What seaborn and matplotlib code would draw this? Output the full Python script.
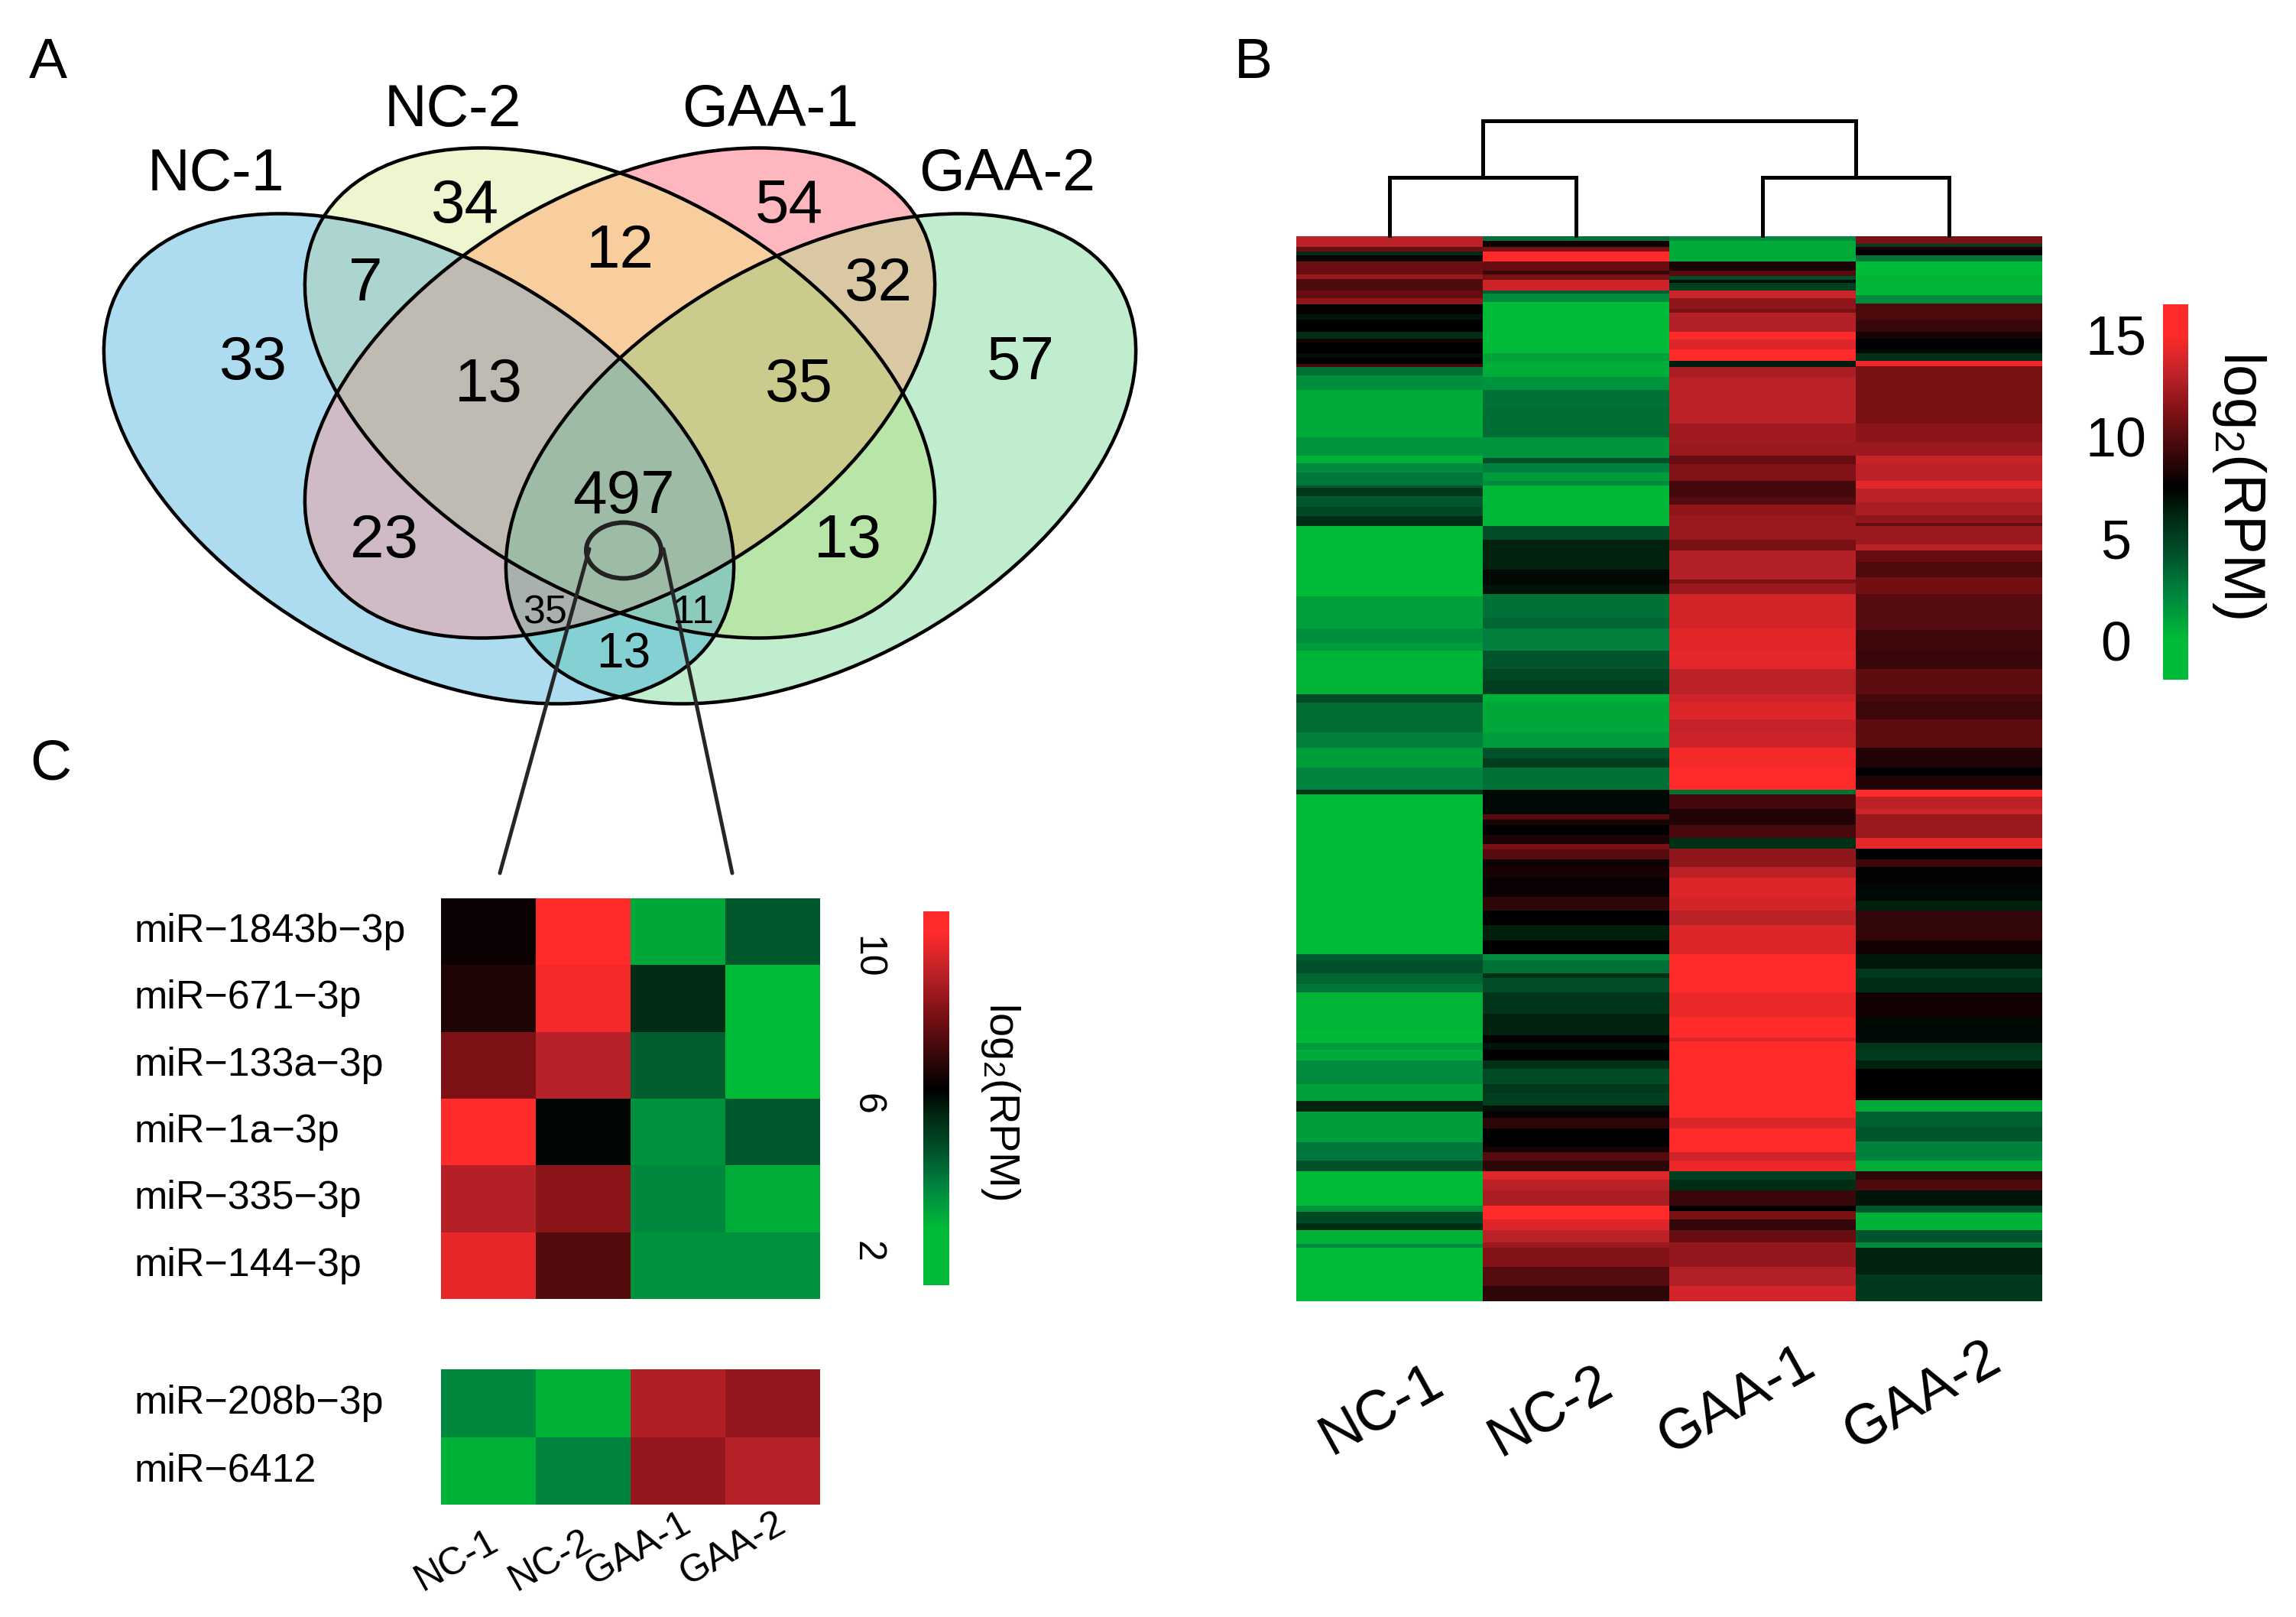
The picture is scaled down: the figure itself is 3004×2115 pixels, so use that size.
import numpy as np
import pandas as pd
import matplotlib
matplotlib.use("Agg")
import matplotlib.pyplot as plt
import seaborn as sns
from matplotlib.colors import LinearSegmentedColormap
from matplotlib.patches import Ellipse
from matplotlib.transforms import ScaledTranslation

W, H = 3004, 2115
DPI = 100

# Panel A: venn counts
venn_sets = ["NC-1", "NC-2", "GAA-1", "GAA-2"]
venn_counts = [34, 54, 7, 12, 32, 33, 57, 13, 35, 497, 23, 13, 35, 11, 13]

# Panel B: heatmap bands, per sample. ends = last row of band (of 500), vals = log2(RPM)
samples = ["NC-1", "NC-2", "GAA-1", "GAA-2"]

nc1_ends = [5, 7, 9, 12, 18, 20, 25.5, 29, 32, 36.5, 39, 45, 48, 50, 55, 57, 60, 61.5, 65.5, 72,
            94.5, 103, 106.5, 111, 117, 118, 122, 127, 131.5, 136, 169, 184, 191, 194.5, 215, 219,
            233, 240, 249.5, 260, 262, 337, 340, 346, 351, 355, 373, 378.5, 382, 387, 398, 406,
            411, 425.5, 434, 439, 455, 458, 463.5, 466.5, 473, 475, 500]
nc1_vals = [13, 10.6, 6, 7.8, 10.6, 12, 9.8, 10.5, 11.7, 7.6, 6.8, 7.5, 5.8, 8.1, 7.5, 7, 7.5, 9.5, 3, 1.8,
            0.7, 1.5, 0.4, 2, 2.8, 4, 5.3, 4, 4.6, 5.8, 0, 1.1, 1.8, 1.3, 0.3, 4.5,
            3.2, 2.5, 1.2, 2.3, 5.5, 0, 3.8, 4.3, 3.4, 2.8, 0.3, 0.1, 1.3, 0.7, 2, 1.1,
            6.2, 1.2, 2.8, 4.3, 0, 1.7, 4.6, 5.8, 0.4, 2, 0]

nc2_ends = [2, 5, 7, 12, 16, 18, 20.5, 25.5, 27, 31, 55, 59, 66, 72, 80, 94.5, 104, 106.5, 111, 115,
            117, 136, 142.5, 145.5, 156.5, 163.5, 168, 179, 184, 194.5, 203, 208.5, 215, 218.5, 233,
            240, 245, 249.5, 260, 262, 271.5, 274, 276.5, 281, 285.5, 288, 292.5, 296, 301, 310,
            316.5, 323.5, 330.5, 337, 340, 346, 348, 355, 365, 375, 378.5, 382, 387, 391, 398, 402.5,
            408, 411, 414, 419, 427.5, 430, 434, 439, 443, 448, 455, 461.5, 466.5, 472.5, 475, 484,
            493, 500]
nc2_vals = [3, 7.9, 11, 15, 10.5, 9.2, 11, 13.5, 3.8, 2, 0, 1, 0.6, 1.6, 3, 3.2, 1.6, 4.3, 2.4, 1.3,
            2, 0.2, 4.4, 6.4, 6.3, 7.2, 6.8, 3, 3.4, 2.5, 4.1, 4.7, 5, 0.5, 0.8,
            1.3, 4.2, 5, 3, 7.2, 7.2, 10, 8.2, 7.5, 8.3, 11, 10, 7.9, 8.2, 7.8,
            8.8, 7.5, 6.4, 7.5, 1.9, 3, 5.7, 4.4, 5.5, 6.3, 7.5, 6.8, 7.5, 5.7, 4.5, 5.3,
            5, 7, 7.7, 8.8, 7.5, 8.2, 10, 8.8, 14, 13, 12.5, 15, 14, 13, 12, 11.3,
            10, 8.8]

gaa1_ends = [2, 12, 16, 18.5, 20.5, 22, 25.5, 29, 34, 36, 45, 48.5, 53, 58.5, 61.5, 66, 88, 97, 103, 107,
             115, 122.5, 126, 131, 142.5, 147.5, 161, 163, 168, 184, 194.5, 203, 215, 218.5, 227, 233,
             240, 249.5, 260, 262, 269, 276.5, 282.5, 287.5, 296, 301, 310, 316.5, 323.5, 337, 355, 367,
             376, 378, 414, 419, 430, 434, 439, 443, 448, 455, 457.5, 461.5, 466.5, 472.5, 484, 493, 500]
gaa1_vals = [2, 0.7, 8.3, 10, 4.5, 7, 5, 13.5, 11.7, 11, 12.8, 15, 14, 15, 6.5, 12.5, 13, 12.2, 12, 10.5,
             11.3, 9.5, 10, 11.7, 12, 11, 12.8, 11, 12, 13.7, 14.1, 14.2, 13, 13.5, 14, 13.3,
             13.5, 14.7, 15, 3, 9.5, 8.5, 9.6, 5.7, 11.7, 13, 14, 13.7, 13, 14, 15, 14.4,
             15, 14, 15, 14, 15, 13.6, 14.5, 5, 5.8, 9.2, 7.5, 11, 9, 10.5, 11.8, 12.8, 13.7]

gaa2_ends = [3.5, 5, 6.5, 9, 12, 18.5, 27.5, 31.5, 39, 45, 48, 53, 55, 58.5, 61, 88, 97, 103, 107, 115,
             118.5, 125, 131, 134.5, 136, 144.5, 147.5, 153, 160, 168, 185, 194.5, 203, 215, 218.5, 227,
             240, 249.5, 253.5, 260, 263, 269, 271.5, 282.5, 287.5, 292.5, 296, 304.5, 312, 316.5, 330.5,
             337, 344, 348, 355, 367, 378.5, 382, 387, 391, 405.5, 411, 418, 425, 434, 439, 443, 448,
             455, 458.5, 466.5, 472.5, 475, 487.5, 500]
gaa2_vals = [11, 5, 8.2, 7.5, 3, 0, 0.3, 2, 9.7, 9.2, 8.2, 7.5, 7.2, 5.7, 14.5, 11, 11.6, 12.1, 13.4, 13,
             14.2, 13, 12.5, 11.7, 10.5, 12, 13, 10.5, 9.7, 10.8, 10, 9.3, 9.1, 10.3, 9.6, 9.3,
             10.3, 8.5, 7.5, 8.5, 15, 13, 13.5, 12, 14.2, 7.5, 9.3, 7.6, 7.2, 6.4, 9,
             8, 6.7, 5.3, 5.8, 8, 7.2, 5.5, 5.2, 6.3, 7.5, 0.7, 3.7, 4.1, 2.4, 0.6, 8.8, 9.7,
             6.8, 4, 0.4, 4.1, 2, 6.3, 5.3]

# Panel C: shared miRNAs
mirna_top = ["miR\u22121843b\u22123p", "miR\u2212671\u22123p", "miR\u2212133a\u22123p",
             "miR\u22121a\u22123p", "miR\u2212335\u22123p", "miR\u2212144\u22123p"]
mirna_bottom = ["miR\u2212208b\u22123p", "miR\u22126412"]
values_top = [[6.6, 10.7, 3.0, 4.6],
              [6.9, 10.5, 5.6, 2.6],
              [8.5, 9.5, 4.5, 2.6],
              [10.7, 6.3, 3.5, 4.6],
              [9.45, 8.75, 3.7, 2.9],
              [10.3, 7.8, 3.5, 3.5]]
values_bottom = [[3.7, 2.8, 9.4, 8.9],
                 [2.8, 3.8, 8.9, 9.5]]

# dendrogram heights on top of panel B
leaf_height = 0.0
pair_height = 0.507
root_height = 1.0

# colour ramps, (share of the way from black, colour)
green_ramp = [(0.2, "#002A12"), (0.43, "#00502A"), (0.7, "#00853F"), (1.0, "#00BB37")]
red_ramp = [(0.48, "#7B1015"), (0.74, "#BC2229"), (1.0, "#FF2A2A")]

# fill colours of the venn regions, key = NC-1 + 2*NC-2 + 4*GAA-1 + 8*GAA-2
region_colors = {1: "#ADDCF1", 2: "#EEF6CF", 4: "#FFB7BF", 8: "#BFEDCE",
                 3: "#ACD5D1", 5: "#CFBBC5", 6: "#F9CE9F", 12: "#D9C8A3",
                 10: "#B8E6A8", 9: "#84D0D3", 7: "#BFBAB2", 14: "#CCCB8E",
                 13: "#A9B1AE", 11: "#8CCABB", 15: "#9DBBA5"}


def px(size):
    """Font size or line width given in pixels, as points."""
    return size * 72 / DPI


def axes_at(fig, left, top, right, bottom):
    return fig.add_axes([left / W, 1 - bottom / H, (right - left) / W, (bottom - top) / H])


def make_cmap(vmin, vmax, low, mid, high):
    """Green - black - red map, flat below low and above high."""
    span = vmax - vmin
    stops = [(0, green_ramp[-1][1])]
    for share, color in reversed(green_ramp):
        stops.append(((mid - share * (mid - low) - vmin) / span, color))
    stops.append(((mid - vmin) / span, "#000000"))
    for share, color in red_ramp:
        stops.append(((mid + share * (high - mid) - vmin) / span, color))
    stops.append((1, red_ramp[-1][1]))
    return LinearSegmentedColormap.from_list("gbr", stops, N=512)


def bands_to_column(ends, vals):
    edges = np.rint(np.array(ends) * 2).astype(int)
    counts = np.diff(np.concatenate([[0], edges]))
    return np.repeat(vals, counts)


def draw_venn(ax):
    ellipses = [(548, 600, 30), (811, 514, 30), (811, 514, -30), (1074, 600, -30)]
    width, height = 902, 526

    xs, ys = np.meshgrid(np.arange(120, 1500), np.arange(170, 940))
    code = np.zeros(xs.shape, dtype=int)
    for bit, (cx, cy, angle) in enumerate(ellipses):
        t = np.radians(angle)
        u = (xs - cx) * np.cos(t) + (ys - cy) * np.sin(t)
        v = -(xs - cx) * np.sin(t) + (ys - cy) * np.cos(t)
        code += ((u / (width / 2)) ** 2 + (v / (height / 2)) ** 2 <= 1).astype(int) << bit

    rgba = np.zeros(xs.shape + (4,))
    for key, color in region_colors.items():
        rgba[code == key] = matplotlib.colors.to_rgba(color)
    ax.imshow(rgba, extent=(120, 1500, 940, 170), aspect="auto", interpolation="nearest", zorder=1)

    for cx, cy, angle in ellipses:
        ax.add_patch(Ellipse((cx, cy), width, height, angle=angle, fill=False,
                             edgecolor="black", linewidth=px(4.5), zorder=2))

    set_pos = [(282, 221), (592, 137), (1008, 137), (1318, 221)]
    for name, (x, y) in zip(venn_sets, set_pos):
        ax.text(x, y, name, fontsize=px(77), ha="center", va="center_baseline", zorder=4)

    count_pos = [(609, 262), (1032, 262), (478, 364), (811, 321), (1149, 364), (331, 467), (1335, 467),
                 (639, 496), (1045, 496), (816, 642), (502, 700), (1109, 700), (713, 796), (907, 796),
                 (816, 850)]
    count_size = [80] * 9 + [80] + [80] * 2 + [52, 52, 64]
    for n, (x, y), size in zip(venn_counts, count_pos, count_size):
        ax.text(x, y, str(n), fontsize=px(size), ha="center", va="center_baseline", zorder=4)

    # zoom from the middle of the venn to panel C
    ax.add_patch(Ellipse((816, 720), 98, 73, fill=False, edgecolor="#222222", linewidth=px(6), zorder=3))
    ax.plot([771, 654], [718, 1142], color="#262626", linewidth=px(5), zorder=3)
    ax.plot([868, 958], [718, 1142], color="#262626", linewidth=px(5), zorder=3)


def style_colorbar(cbar, size, pad, rotation):
    cbar.outline.set_visible(False)
    cbar.ax.yaxis.set_ticks_position("left")
    cbar.ax.tick_params(length=0, pad=px(pad), labelsize=px(size))
    for label in cbar.ax.get_yticklabels():
        label.set_ha("center")
        label.set_va("center_baseline" if rotation == 0 else "center")
        label.set_rotation(rotation)


def style_xlabels(ax, fig, size, shifts):
    ax.tick_params(axis="x", length=0)
    for label, (dx, dy) in zip(ax.get_xticklabels(), shifts):
        label.set_fontsize(px(size))
        label.set_rotation(29)
        label.set_rotation_mode("anchor")
        label.set_ha("left")
        label.set_va("baseline")
        label.set_transform(label.get_transform() + ScaledTranslation(dx / DPI, -dy / DPI, fig.dpi_scale_trans))


def main():
    sns.set_theme(style="white")
    plt.rcParams["font.family"] = ["Liberation Sans", "DejaVu Sans"]
    plt.rcParams["mathtext.default"] = "regular"
    plt.rcParams["text.color"] = "black"
    plt.rcParams["xtick.color"] = "black"
    plt.rcParams["ytick.color"] = "black"

    fig = plt.figure(figsize=(W / DPI, H / DPI), dpi=DPI, facecolor="white")

    # full-figure layer for the venn and free text
    base = fig.add_axes([0, 0, 1, 1])
    draw_venn(base)
    base.set_xlim(0, W)
    base.set_ylim(H, 0)
    base.axis("off")

    base.text(63, 75, "A", fontsize=px(75), ha="center", va="center_baseline")
    base.text(1640, 75, "B", fontsize=px(75), ha="center", va="center_baseline")
    base.text(66, 992, "C", fontsize=px(75), ha="center", va="center_baseline")

    # panel B
    heat_b = pd.DataFrame({
        samples[0]: bands_to_column(nc1_ends, nc1_vals),
        samples[1]: bands_to_column(nc2_ends, nc2_vals),
        samples[2]: bands_to_column(gaa1_ends, gaa1_vals),
        samples[3]: bands_to_column(gaa2_ends, gaa2_vals),
    })
    ax_b = axes_at(fig, 1696, 309, 2672, 1702)
    cax_b = axes_at(fig, 2830, 398, 2863, 889)
    sns.heatmap(heat_b, ax=ax_b, cbar_ax=cax_b, cmap=make_cmap(-1.95, 16.5, 0, 7.5, 15),
                vmin=-1.95, vmax=16.5, yticklabels=False, cbar_kws={"ticks": [0, 5, 10, 15]})
    ax_b.tick_params(axis="x", pad=px(201))
    style_xlabels(ax_b, fig, 74, [(-76, 0), (-99, 2), (-122, 0), (-123, -6)])
    style_colorbar(ax_b.collections[0].colorbar, 72, 62, 0)
    base.text(2930, 634, r"log$_2$(RPM)", fontsize=px(76), rotation=-90, ha="center", va="center")

    # dendrogram above panel B
    ax_d = axes_at(fig, 1696, 158, 2672, 308)
    ax_d.set_xlim(0, 4)
    ax_d.set_ylim(0, 1)
    ax_d.axis("off")
    line = dict(color="black", linewidth=px(5), solid_capstyle="projecting", solid_joinstyle="miter", clip_on=False)
    ax_d.plot([0.5, 0.5, 1.5, 1.5], [leaf_height, pair_height, pair_height, leaf_height], **line)
    ax_d.plot([2.5, 2.5, 3.5, 3.5], [leaf_height, pair_height, pair_height, leaf_height], **line)
    ax_d.plot([1.0, 1.0, 3.0, 3.0], [pair_height, root_height, root_height, pair_height], **line)

    # panel C
    cmap_c = make_cmap(1.08, 11.25, 2.6, 6.4, 10.7)
    ax_c1 = axes_at(fig, 577, 1175, 1073, 1699)
    cax_c = axes_at(fig, 1208, 1192, 1242, 1681)
    sns.heatmap(pd.DataFrame(values_top, index=mirna_top, columns=samples), ax=ax_c1, cbar_ax=cax_c,
                cmap=cmap_c, vmin=1.08, vmax=11.25, xticklabels=False, cbar_kws={"ticks": [2, 6, 10]})
    ax_c2 = axes_at(fig, 577, 1791, 1073, 1968)
    sns.heatmap(pd.DataFrame(values_bottom, index=mirna_bottom, columns=samples), ax=ax_c2, cbar=False,
                cmap=cmap_c, vmin=1.08, vmax=11.25)
    for ax in (ax_c1, ax_c2):
        ax.tick_params(axis="y", length=0, pad=px(401))
        for label in ax.get_yticklabels():
            label.set_rotation(0)
            label.set_ha("left")
            label.set_va("center")
            label.set_fontsize(px(52))
    ax_c2.tick_params(axis="x", pad=px(113))
    style_xlabels(ax_c2, fig, 50, [(-86, 0), (-87, 0), (-112, -7), (-112, -7)])
    style_colorbar(ax_c1.collections[0].colorbar, 50, 74, -90)
    base.text(1309, 1440, r"log$_2$(RPM)", fontsize=px(56), rotation=-90, ha="center", va="center")

    fig.savefig("out.png", dpi=DPI, facecolor="white")


if __name__ == "__main__":
    main()
